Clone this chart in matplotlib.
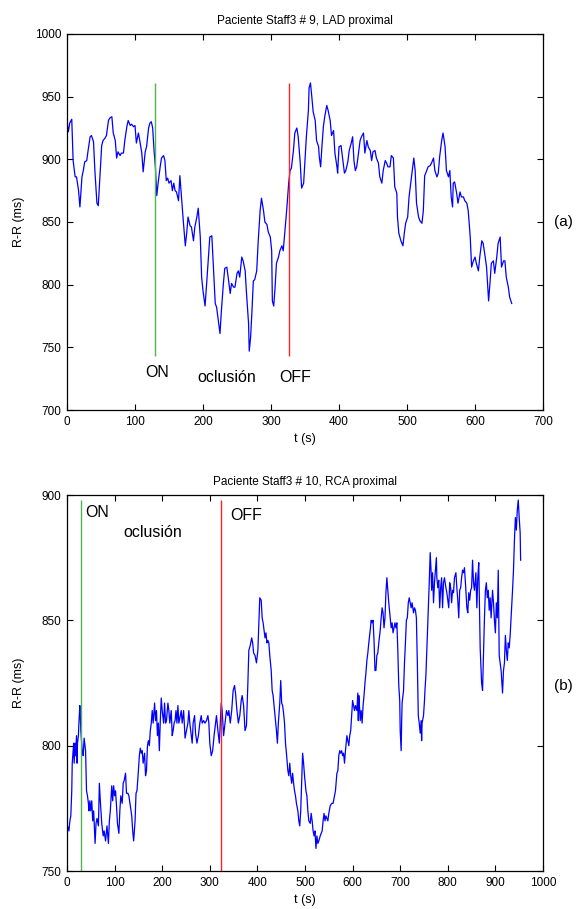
import matplotlib
matplotlib.use("Agg")
import matplotlib.pyplot as plt

plt.rcParams['font.family'] = ['Liberation Sans', 'DejaVu Sans']

# --- (a) Paciente Staff3 # 9, LAD proximal ---
t_a = [0, 2, 4, 7, 9, 12, 14, 17, 19, 22,
       24, 26, 29, 31, 34, 36, 39, 41, 44, 46,
       49, 51, 53, 56, 58, 61, 63, 66, 68, 71,
       73, 75, 78, 80, 83, 85, 88, 90, 93, 95,
       98, 100, 102, 105, 107, 110, 112, 115, 117, 120,
       122, 124, 126, 128, 130, 132, 134, 137, 139, 142,
       144, 146, 148, 150, 153, 155, 157, 159, 161, 164,
       166, 169, 171, 174, 176, 178, 181, 183, 186, 188,
       191, 193, 196, 198, 200, 203, 205, 208, 210, 213,
       215, 218, 220, 223, 225, 227, 230, 232, 235, 237,
       240, 242, 245, 247, 250, 252, 254, 257, 259, 262,
       264, 267, 268, 270, 272, 274, 276, 279, 281, 284,
       286, 289, 291, 294, 296, 299, 301, 302, 304, 306,
       308, 311, 313, 316, 318, 321, 323, 326, 328, 330,
       333, 335, 338, 340, 343, 345, 348, 350, 352, 355,
       356, 358, 360, 362, 365, 367, 370, 371, 373, 375,
       377, 379, 382, 384, 387, 389, 392, 394, 397, 398,
       400, 403, 405, 408, 410, 413, 415, 418, 420, 422,
       424, 426, 428, 431, 433, 436, 438, 441, 443, 446,
       448, 450, 453, 455, 458, 460, 463, 465, 468, 470,
       472, 475, 477, 480, 482, 485, 486, 488, 491, 494,
       496, 498, 501, 503, 506, 508, 510, 512, 514, 517,
       519, 522, 524, 526, 529, 531, 534, 536, 539, 541,
       544, 546, 548, 551, 553, 556, 558, 561, 563, 565,
       567, 568, 570, 573, 575, 578, 580, 583, 585, 588,
       590, 593, 595, 597, 600, 602, 605, 607, 610, 612,
       615, 617, 620, 622, 624, 627, 629, 632, 634, 637,
       639, 642, 644, 646, 649, 651, 654]
rr_a = [930, 922, 929, 932, 899, 886, 886, 875, 862, 886,
        891, 898, 899, 907, 918, 919, 914, 891, 865, 863,
        891, 911, 915, 917, 919, 931, 933, 934, 921, 915,
        901, 906, 903, 905, 905, 915, 926, 931, 927, 928,
        926, 927, 913, 921, 915, 905, 890, 906, 910, 925,
        929, 930, 925, 907, 894, 871, 881, 894, 901, 903,
        899, 883, 885, 881, 883, 875, 881, 875, 874, 867,
        887, 865, 851, 831, 841, 854, 847, 846, 835, 846,
        854, 861, 838, 806, 795, 783, 798, 822, 838, 839,
        817, 785, 782, 769, 761, 779, 801, 813, 814, 806,
        793, 801, 798, 798, 809, 811, 806, 822, 819, 811,
        793, 769, 747, 758, 779, 803, 804, 811, 833, 859,
        869, 859, 850, 848, 842, 838, 827, 787, 783, 798,
        817, 822, 827, 831, 827, 846, 859, 881, 891, 893,
        907, 921, 925, 918, 897, 877, 881, 899, 918, 939,
        957, 961, 950, 938, 931, 915, 910, 902, 894, 911,
        926, 934, 943, 939, 931, 919, 923, 905, 894, 889,
        910, 911, 902, 889, 891, 898, 907, 913, 918, 899,
        891, 894, 902, 915, 918, 921, 905, 915, 910, 907,
        899, 906, 907, 901, 897, 886, 881, 891, 899, 897,
        894, 894, 903, 901, 878, 873, 854, 841, 835, 831,
        841, 849, 854, 870, 883, 891, 901, 891, 865, 854,
        851, 849, 859, 887, 891, 894, 895, 897, 901, 891,
        886, 889, 902, 915, 921, 910, 891, 886, 891, 870,
        862, 881, 882, 873, 865, 874, 870, 870, 867, 865,
        859, 838, 814, 818, 822, 817, 811, 822, 835, 833,
        822, 814, 787, 801, 817, 819, 809, 822, 833, 838,
        814, 819, 819, 806, 798, 790, 785]

# --- (b) Paciente Staff3 # 10, RCA proximal ---
t_b = [0, 1, 4, 6, 8, 10, 11, 13, 14, 15,
       17, 18, 20, 21, 22, 24, 25, 27, 28, 29,
       32, 34, 36, 39, 41, 43, 45, 46, 48, 50,
       52, 54, 56, 59, 61, 63, 66, 68, 70, 73,
       76, 78, 81, 84, 87, 89, 91, 94, 96, 98,
       100, 102, 104, 106, 109, 111, 113, 116, 118, 120,
       123, 125, 128, 130, 133, 136, 138, 140, 143, 145,
       147, 150, 152, 154, 156, 158, 160, 163, 165, 167,
       169, 171, 173, 175, 177, 179, 181, 184, 186, 188,
       190, 192, 194, 196, 198, 200, 203, 205, 207, 209,
       212, 214, 216, 219, 221, 223, 225, 227, 229, 231,
       233, 235, 238, 240, 242, 245, 248, 254, 256, 258,
       261, 263, 265, 268, 270, 273, 276, 279, 282, 284,
       287, 290, 293, 296, 298, 300, 303, 306, 309, 312,
       314, 317, 320, 322, 324, 326, 329, 332, 335, 338,
       340, 343, 346, 349, 352, 354, 357, 360, 363, 366,
       368, 371, 374, 377, 380, 382, 385, 388, 390, 392,
       395, 398, 401, 403, 405, 408, 410, 412, 414, 416,
       418, 420, 422, 424, 426, 429, 431, 433, 436, 438,
       440, 442, 444, 447, 449, 451, 453, 455, 457, 459,
       461, 464, 466, 468, 470, 472, 474, 476, 478, 480,
       482, 485, 487, 489, 491, 493, 495, 497, 499, 502,
       504, 506, 508, 511, 513, 515, 517, 519, 521, 523,
       525, 527, 529, 532, 534, 536, 538, 540, 542, 544,
       546, 548, 550, 553, 556, 559, 562, 564, 567, 569,
       571, 573, 575, 577, 579, 581, 583, 585, 588, 590,
       592, 594, 596, 598, 600, 602, 604, 606, 609, 611,
       612, 613, 615, 616, 618, 620, 622, 624, 626, 628,
       630, 632, 634, 637, 639, 641, 643, 645, 647, 649,
       651, 653, 655, 658, 660, 662, 664, 666, 668, 670,
       672, 674, 676, 679, 681, 683, 685, 687, 689, 691,
       693, 695, 697, 699, 700, 702, 703, 704, 707, 709,
       711, 713, 715, 717, 719, 721, 723, 725, 728, 730,
       732, 734, 736, 738, 740, 742, 744, 745, 746, 749,
       751, 752, 754, 756, 758, 761, 763, 765, 766, 768,
       770, 772, 774, 776, 777, 779, 781, 783, 785, 787,
       789, 791, 793, 796, 798, 800, 802, 804, 806, 808,
       810, 812, 814, 817, 819, 821, 823, 825, 827, 829,
       831, 833, 835, 838, 840, 842, 844, 846, 848, 850,
       852, 854, 856, 859, 861, 863, 865, 867, 868, 870,
       871, 873, 875, 877, 879, 881, 883, 885, 887, 889,
       891, 894, 896, 898, 900, 902, 904, 906, 908, 910,
       912, 915, 917, 919, 921, 923, 925, 927, 929, 931,
       933, 936, 938, 940, 942, 944, 946, 948, 950, 952,
       953]
rr_b = [750, 768, 766, 770, 772, 782, 793, 798, 801, 793,
        801, 796, 804, 793, 801, 804, 809, 816, 812, 806,
        798, 796, 803, 798, 782, 780, 777, 774, 778, 774,
        778, 770, 774, 761, 769, 771, 768, 785, 778, 769,
        764, 766, 762, 768, 761, 770, 774, 784, 778, 784,
        780, 782, 776, 769, 765, 774, 780, 777, 785, 786,
        789, 781, 781, 780, 776, 772, 766, 762, 770, 781,
        782, 790, 796, 799, 797, 798, 793, 797, 788, 790,
        800, 802, 800, 806, 809, 814, 809, 817, 810, 814,
        804, 809, 798, 810, 819, 814, 809, 817, 809, 810,
        817, 814, 809, 814, 804, 806, 809, 810, 814, 809,
        816, 809, 812, 814, 809, 814, 803, 809, 814, 809,
        804, 801, 809, 812, 805, 801, 804, 809, 812, 809,
        810, 809, 810, 812, 809, 801, 796, 798, 804, 809,
        812, 806, 801, 809, 817, 814, 804, 809, 814, 812,
        814, 809, 814, 822, 824, 821, 814, 809, 812, 818,
        820, 816, 806, 808, 825, 838, 840, 843, 841, 837,
        836, 833, 838, 849, 859, 858, 851, 849, 846, 843,
        845, 841, 842, 841, 836, 830, 822, 820, 814, 810,
        806, 801, 809, 817, 826, 817, 816, 813, 809, 801,
        797, 790, 788, 793, 788, 785, 789, 785, 782, 780,
        777, 774, 770, 768, 774, 785, 797, 793, 788, 782,
        780, 774, 770, 769, 773, 770, 766, 764, 766, 759,
        764, 761, 762, 764, 765, 766, 770, 773, 770, 772,
        771, 770, 773, 776, 777, 777, 780, 782, 789, 790,
        796, 798, 797, 798, 796, 797, 793, 798, 804, 802,
        800, 804, 806, 812, 818, 816, 814, 816, 814, 821,
        810, 820, 814, 810, 814, 809, 816, 820, 825, 829,
        834, 837, 841, 846, 850, 849, 850, 842, 830, 830,
        836, 837, 841, 846, 851, 855, 853, 847, 851, 861,
        867, 862, 857, 851, 847, 849, 845, 847, 849, 847,
        849, 838, 824, 818, 806, 798, 809, 817, 822, 833,
        841, 850, 851, 857, 859, 857, 855, 857, 853, 855,
        854, 851, 833, 812, 809, 805, 810, 802, 809, 812,
        818, 822, 828, 838, 849, 865, 877, 869, 862, 869,
        857, 865, 870, 875, 867, 863, 866, 855, 863, 867,
        855, 865, 867, 863, 861, 858, 855, 865, 863, 857,
        862, 861, 867, 869, 863, 858, 851, 862, 863, 867,
        870, 869, 871, 862, 855, 853, 861, 858, 862, 863,
        874, 865, 862, 869, 855, 867, 873, 851, 839, 830,
        825, 822, 836, 851, 862, 865, 859, 862, 854, 859,
        851, 862, 857, 850, 845, 857, 851, 870, 836, 833,
        830, 821, 830, 833, 844, 838, 834, 841, 839, 844,
        851, 862, 870, 882, 891, 886, 894, 898, 891, 885,
        874]

# marcas de oclusión (ON / OFF) y su extensión vertical
on_a, off_a, mark_a = 130, 327, (743, 961)
on_b, off_b, mark_b = 29, 323, (750, 898)

green = "#50b450"
red = "#ff2424"

fig = plt.figure(figsize=(5.76, 9.09), dpi=100)
ax1 = fig.add_axes([67/576, 1 - 410/909, 476/576, 376/909])
ax2 = fig.add_axes([67/576, 1 - 871/909, 476/576, 376/909])

# --- panel (a) ---
ax1.plot(t_a, rr_a, color="blue", linewidth=0.9)
ax1.vlines(on_a, *mark_a, color=green, linewidth=1.0)
ax1.vlines(off_a, *mark_a, color=red, linewidth=1.0)
ax1.text(115, 730, "ON", fontsize=11.5, va="center", ha="left")
ax1.text(192, 726, "oclusión", fontsize=11.5, va="center", ha="left")
ax1.text(312, 726, "OFF", fontsize=11.5, va="center", ha="left")
ax1.set_xlim(0, 700)
ax1.set_ylim(700, 1000)
ax1.set_xticks(range(0, 701, 100))
ax1.set_yticks(range(700, 1001, 50))
ax1.set_title("Paciente Staff3 # 9, LAD proximal", fontsize=8.5, pad=7)
ax1.set_xlabel("t (s)", fontsize=9, labelpad=4)
ax1.set_ylabel("R-R (ms)", fontsize=9)

# --- panel (b) ---
ax2.plot(t_b, rr_b, color="blue", linewidth=0.9)
ax2.vlines(on_b, *mark_b, color=green, linewidth=1.0)
ax2.vlines(off_b, *mark_b, color=red, linewidth=1.0)
ax2.text(38, 893, "ON", fontsize=11.5, va="center", ha="left")
ax2.text(118, 885, "oclusión", fontsize=11.5, va="center", ha="left")
ax2.text(343, 892, "OFF", fontsize=11.5, va="center", ha="left")
ax2.set_xlim(0, 1000)
ax2.set_ylim(750, 900)
ax2.set_xticks(range(0, 1001, 100))
ax2.set_yticks(range(750, 901, 50))
ax2.set_title("Paciente Staff3 # 10, RCA proximal", fontsize=8.5, pad=7)
ax2.set_xlabel("t (s)", fontsize=9, labelpad=4)
ax2.set_ylabel("R-R (ms)", fontsize=9)

# estilo tipo MATLAB: ticks hacia dentro en los 4 lados
for ax in (ax1, ax2):
    ax.tick_params(direction="in", top=True, right=True, length=4,
                   width=0.8, labelsize=8.5, pad=4)
    for s in ax.spines.values():
        s.set_linewidth(0.9)
    # misma posición horizontal de la etiqueta y en ambos paneles
    ax.yaxis.set_label_coords(-0.088, 0.5)

fig.text(563/576, 1 - 222/909, "(a)", fontsize=11, ha="center", va="center")
fig.text(563/576, 1 - 686/909, "(b)", fontsize=11, ha="center", va="center")

fig.savefig("out.png", dpi=100)
